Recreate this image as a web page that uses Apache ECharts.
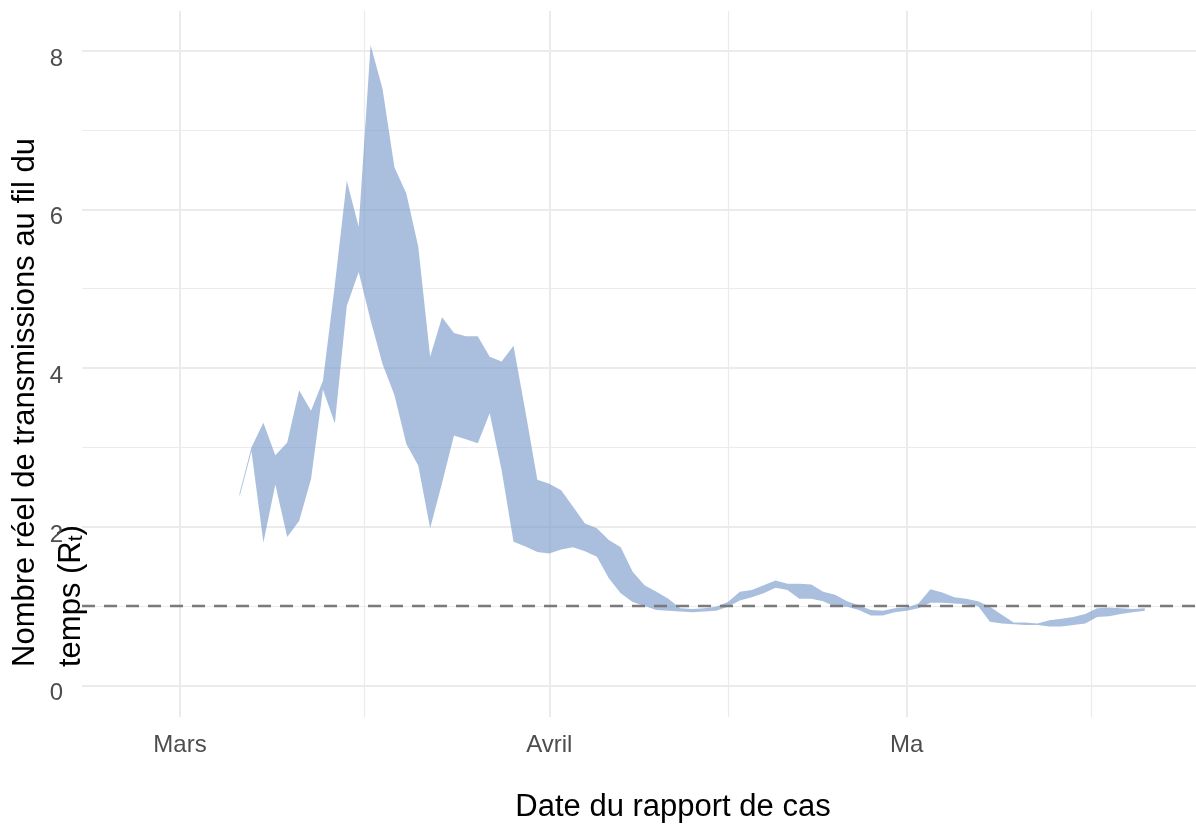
<!DOCTYPE html>
<html>
<head>
<meta charset="utf-8">
<style>
  html, body { margin: 0; padding: 0; background: #fff; }
  #chart { width: 1196px; height: 830px; }
</style>
<script src="https://cdn.jsdelivr.net/npm/echarts@6/dist/echarts.min.js"></script>
</head>
<body>
<div id="chart"></div>
<script>
// daily Rt band (lower / upper bound)
const dates = [
  '2020-03-06', '2020-03-07', '2020-03-08', '2020-03-09', '2020-03-10', '2020-03-11', '2020-03-12',
  '2020-03-13', '2020-03-14', '2020-03-15', '2020-03-16', '2020-03-17', '2020-03-18', '2020-03-19',
  '2020-03-20', '2020-03-21', '2020-03-22', '2020-03-23', '2020-03-24', '2020-03-25', '2020-03-26',
  '2020-03-27', '2020-03-28', '2020-03-29', '2020-03-30', '2020-03-31',
  '2020-04-01', '2020-04-02', '2020-04-03', '2020-04-04', '2020-04-05', '2020-04-06', '2020-04-07',
  '2020-04-08', '2020-04-09', '2020-04-10', '2020-04-11', '2020-04-12', '2020-04-13', '2020-04-14',
  '2020-04-15', '2020-04-16', '2020-04-17', '2020-04-18', '2020-04-19', '2020-04-20', '2020-04-21',
  '2020-04-22', '2020-04-23', '2020-04-24', '2020-04-25', '2020-04-26', '2020-04-27', '2020-04-28',
  '2020-04-29', '2020-04-30',
  '2020-05-01', '2020-05-02', '2020-05-03', '2020-05-04', '2020-05-05', '2020-05-06', '2020-05-07',
  '2020-05-08', '2020-05-09', '2020-05-10', '2020-05-11', '2020-05-12', '2020-05-13', '2020-05-14',
  '2020-05-15', '2020-05-16', '2020-05-17', '2020-05-18', '2020-05-19', '2020-05-20', '2020-05-21'
]

const lower = [
  2.38, 2.95, 1.80, 2.53, 1.87, 2.07, 2.60, 3.73, 3.30, 4.78, 5.21, 4.60, 4.05, 3.66,
  3.04, 2.77, 1.98, 2.55, 3.15, 3.10, 3.05, 3.43, 2.71, 1.81, 1.75, 1.68,
  1.66, 1.71, 1.74, 1.69, 1.62, 1.35, 1.16, 1.05, 1.00, 0.95, 0.94, 0.93, 0.92, 0.93,
  0.94, 0.99, 1.07, 1.11, 1.16, 1.23, 1.20, 1.09, 1.09, 1.06, 0.99, 0.99, 0.95, 0.88,
  0.88, 0.92,
  0.94, 0.97, 1.04, 1.04, 1.03, 1.02, 1.00, 0.80, 0.78, 0.77, 0.76, 0.76, 0.74, 0.74,
  0.76, 0.78, 0.86, 0.87, 0.90, 0.92, 0.94
]

const upper = [
  2.42, 3.00, 3.31, 2.90, 3.06, 3.72, 3.46, 3.84, 5.05, 6.36, 5.78, 8.07, 7.52, 6.53,
  6.20, 5.53, 4.14, 4.64, 4.44, 4.40, 4.40, 4.14, 4.08, 4.28, 3.45, 2.59,
  2.54, 2.46, 2.25, 2.04, 1.98, 1.83, 1.74, 1.43, 1.26, 1.18, 1.09, 0.97, 0.96, 0.97,
  0.99, 1.05, 1.18, 1.20, 1.26, 1.32, 1.28, 1.28, 1.27, 1.18, 1.14, 1.06, 1.01, 0.95,
  0.94, 0.97,
  0.98, 1.03, 1.21, 1.17, 1.11, 1.09, 1.06, 0.99, 0.89, 0.79, 0.79, 0.78, 0.82, 0.84,
  0.86, 0.90, 0.97, 0.98, 0.97, 0.96, 0.97
]

// x axis in days since 1 March
const xTickDays = [0, 31, 61]
const xTickLabels = ['Mars', 'Avril', 'Ma']
const xMinorDays = [15.5, 46, 76.5]
const yTicks = [0, 2, 4, 6, 8]
const yMinorTicks = [1, 3, 5, 7]
const threshold = 1

const FONT = "'Liberation Sans', Arial, Helvetica, sans-serif"
const GRID_COLOR = '#ebebeb'
const X_MIN = -8.23
const X_MAX = 85.3
const Y_MIN = -0.4
const Y_MAX = 8.5

const origin = Date.parse('2020-03-01')
const dayOf = d => (Date.parse(d) - origin) / 86400000

const bandData = dates.map((d, i) => [dayOf(d), lower[i], upper[i]])

// whole ribbon as one polygon: upper edge forwards, lower edge backwards
const renderBand = (params, api) => {
  if (params.dataIndex !== 0) return null
  const top = bandData.map(p => api.coord([p[0], p[2]]))
  const bottom = bandData.map(p => api.coord([p[0], p[1]])).reverse()
  return {
    type: 'polygon',
    shape: { points: top.concat(bottom) },
    style: { fill: 'rgba(120, 152, 203, 0.63)', stroke: null }
  }
}

const chart = echarts.init(document.getElementById('chart'), null, { renderer: 'canvas' })

const option = {
  animation: false,
  backgroundColor: '#ffffff',
  grid: { left: 82, right: 0, top: 11, bottom: 113, containLabel: false },
  xAxis: [
    {
      type: 'value',
      min: X_MIN,
      max: X_MAX,
      axisLine: { show: false },
      axisTick: { show: false, customValues: xTickDays },
      axisLabel: {
        customValues: xTickDays,
        margin: 16,
        color: '#4d4d4d',
        fontSize: 24,
        fontFamily: FONT,
        formatter: v => xTickLabels[xTickDays.indexOf(v)] || ''
      },
      splitLine: { show: true, lineStyle: { color: GRID_COLOR, width: 2 } }
    },
    {
      type: 'value',
      min: X_MIN,
      max: X_MAX,
      position: 'bottom',
      axisLine: { show: false },
      axisTick: { show: false, customValues: xMinorDays },
      axisLabel: { show: false, customValues: xMinorDays },
      splitLine: { show: true, lineStyle: { color: GRID_COLOR, width: 1.2 } }
    }
  ],
  yAxis: [
    {
      type: 'value',
      min: Y_MIN,
      max: Y_MAX,
      axisLine: { show: false },
      axisTick: { show: false, customValues: yTicks },
      axisLabel: {
        customValues: yTicks,
        margin: 19,
        formatter: v => '{n|' + v + '}',
        rich: {
          n: {
            color: '#4d4d4d',
            fontSize: 24,
            fontFamily: FONT,
            padding: [17, 0, 0, 0]
          }
        }
      },
      splitLine: { show: true, lineStyle: { color: GRID_COLOR, width: 2 } }
    },
    {
      type: 'value',
      min: Y_MIN,
      max: Y_MAX,
      position: 'left',
      axisLine: { show: false },
      axisTick: { show: false, customValues: yMinorTicks },
      axisLabel: { show: false, customValues: yMinorTicks },
      splitLine: { show: true, lineStyle: { color: GRID_COLOR, width: 1.2 } }
    }
  ],
  series: [
    {
      name: 'Rt',
      type: 'custom',
      xAxisIndex: 0,
      yAxisIndex: 0,
      silent: true,
      data: bandData,
      encode: { x: 0, y: [1, 2] },
      renderItem: renderBand,
      markLine: {
        silent: true,
        symbol: 'none',
        label: { show: false },
        lineStyle: { color: '#7a7a7a', width: 2.4, type: [13, 9] },
        data: [{ yAxis: threshold }]
      }
    }
  ],
  graphic: [
    {
      type: 'text',
      x: 673,
      y: 807,
      style: {
        text: 'Date du rapport de cas',
        fill: '#000',
        fontSize: 31,
        fontFamily: FONT,
        align: 'center',
        verticalAlign: 'middle'
      }
    },
    {
      type: 'text',
      x: 25,
      y: 667,
      rotation: Math.PI / 2,
      style: {
        text: 'Nombre réel de transmissions au fil du',
        fill: '#000',
        fontSize: 31,
        fontFamily: FONT,
        align: 'left',
        verticalAlign: 'middle'
      }
    },
    {
      type: 'text',
      x: 71,
      y: 667,
      rotation: Math.PI / 2,
      style: {
        text: 'temps (R{s|t})',
        fill: '#000',
        fontSize: 31,
        fontFamily: FONT,
        align: 'left',
        verticalAlign: 'middle',
        rich: {
          s: { fontSize: 21, fontFamily: FONT, fill: '#000', verticalAlign: 'bottom' }
        }
      }
    }
  ]
}

chart.setOption(option)
</script>
</body>
</html>
